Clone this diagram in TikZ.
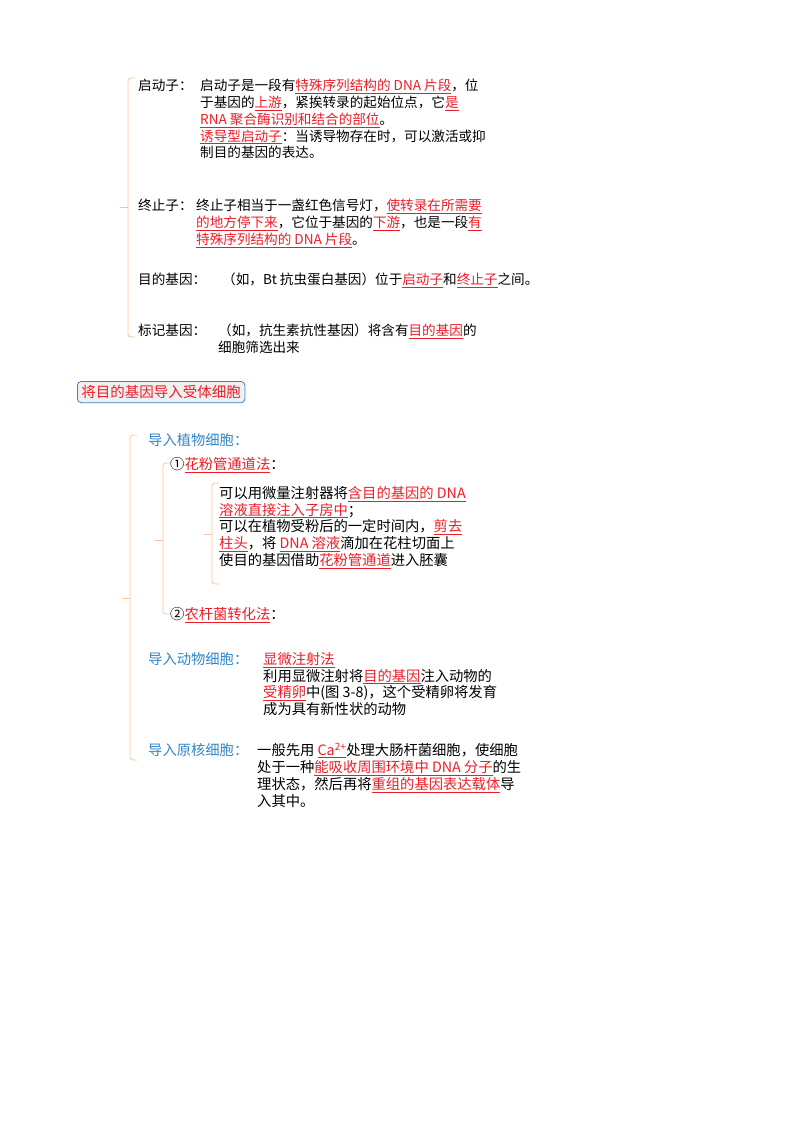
\documentclass[tikz,border=0pt]{standalone}
\usepackage{fontspec}
\setmainfont{Noto Sans CJK SC}
\usetikzlibrary{positioning}
\definecolor{brk}{RGB}{248,196,160}
\definecolor{lbl}{RGB}{50,135,200}
\definecolor{hot}{RGB}{235,30,40}
\newcommand{\hl}[1]{\textcolor{hot}{\underline{#1}}}
\tikzset{
  txt/.style={anchor=north west, inner sep=0pt, align=left, font=\fontsize{13.6}{16.8}\selectfont},
  wide/.style={txt, font=\fontsize{14.3}{16.8}\selectfont},
  lab/.style={wide, text=lbl},
  brace/.style={draw=brk, line width=0.8pt, rounded corners=3pt},
  title/.style={draw=lbl, fill=gray!12, rounded corners=4pt, line width=0.8pt, text=hot, inner sep=4pt, font=\fontsize{14.5}{15}\selectfont}
}
\newcommand{\bracket}[4]{% x, top, bottom, mid
  \draw[brace] (#1+7,#2) -- (#1,#2) -- (#1,#3) -- (#1+7,#3);
  \draw[brace] (#1,#4) -- (#1-8,#4);
}
\begin{document}
\begin{tikzpicture}[x=1pt,y=-1pt]
\useasboundingbox (0,0) rectangle (800,1132);
% part one
\bracket{128}{78}{337}{207}
\node[txt] (qdz) at (138,79) {启动子：};
\node[txt] (qdzT) at (200,79) {启动子是一段有\hl{特殊序列结构的 DNA 片段}，位\\
于基因的\hl{上游}，紧挨转录的起始位点，它\hl{是}\\
\hl{RNA 聚合酶识别和结合的部位}。\\
\hl{诱导型启动子}：当诱导物存在时，可以激活或抑\\
制目的基因的表达。};
\node[txt] (zzz) at (138,199) {终止子：};
\node[txt] (zzzT) at (196,199) {终止子相当于一盏红色信号灯，\hl{使转录在所需要}\\
\hl{的地方停下来}，它位于基因的\hl{下游}，也是一段\hl{有}\\
\hl{特殊序列结构的 DNA 片段}。};
\node[txt] (mdj) at (138,273) {目的基因：};
\node[txt] (mdjT) at (222,273) {（如，Bt 抗虫蛋白基因）位于\hl{启动子}和\hl{终止子}之间。};
\node[txt] (bjj) at (138,324) {标记基因：};
\node[txt] (bjjT) at (218,324) {（如，抗生素抗性基因）将含有\hl{目的基因}的\\
细胞筛选出来};
% part two
\node[title, anchor=north west] (box) at (77,381) {将目的基因导入受体细胞};
\bracket{130}{435}{760}{598}
\node[lab] (zw) at (148,433) {导入植物细胞：};
\bracket{163}{463}{614}{540}
\node[wide] (hf) at (170,457) {①\hl{花粉管通道法}：};
\bracket{212}{483}{584}{534}
\node[wide] (hfT) at (219,486) {可以用微量注射器将\hl{含目的基因的 DNA}\\
\hl{溶液直接注入子房中}；\\
可以在植物受粉后的一定时间内，\hl{剪去}\\
\hl{柱头}，将 \hl{DNA 溶液}滴加在花柱切面上\\
使目的基因借助\hl{花粉管通道}进入胚囊};
\node[wide] (ng) at (170,607) {②\hl{农杆菌转化法}：};
\node[lab] (dw) at (148,652) {导入动物细胞：};
\node[wide] (dwT) at (263,652) {\hl{显微注射法}\\
利用显微注射将\hl{目的基因}注入动物的\\
\hl{受精卵}中(图 3-8)，这个受精卵将发育\\
成为具有新性状的动物};
\node[lab] (yh) at (148,743) {导入原核细胞：};
\node[wide] (yhT) at (257,743) {一般先用 \hl{Ca\textsuperscript{2+}}处理大肠杆菌细胞，使细胞\\
处于一种\hl{能吸收周围环境中 DNA 分子}的生\\
理状态，然后再将\hl{重组的基因表达载体}导\\
入其中。};
\end{tikzpicture}
\end{document}
